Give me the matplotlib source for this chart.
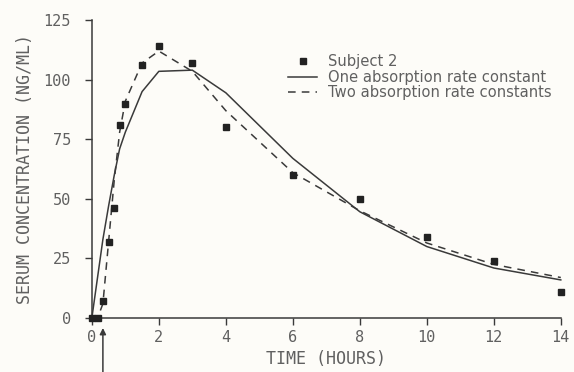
import numpy as np
import matplotlib.pyplot as plt

# time after dose (hours)
time = [0, 0.17, 0.33, 0.5, 0.67, 0.83, 1, 1.5, 2, 3, 4, 6, 8, 10, 12, 14]
# observed serum concentration, subject 2 (ng/ml)
subject2 = [0, 0, 7, 32, 46, 81, 90, 106, 114, 107, 80, 60, 50, 34, 24, 11]
# model fits
one_rate = [0, 17, 33, 47, 60, 71, 78, 95, 103.5, 104, 94.5, 67, 44.6, 30, 21, 16]
two_rate = [0, 0, 6, 32, 58, 78, 91, 107, 112, 103.5, 87, 61, 45, 31.5, 22.5, 17]

xticks = [0, 2, 4, 6, 8, 10, 12, 14]
yticks = [0, 25, 50, 75, 100, 125]

ink = "#3a3a3a"
txt = "#606060"
mono = "DejaVu Sans Mono"

fig = plt.figure(figsize=(5.74, 3.72), dpi=100, facecolor="#fdfcf8")
ax = fig.add_axes([0.160, 0.145, 0.817, 0.801])
ax.set_facecolor("none")

ax.plot(time, one_rate, "-", color=ink, lw=1.1, label="One absorption rate constant", clip_on=False)
ax.plot(time, two_rate, "--", color=ink, lw=1.1, dashes=(5, 4), label="Two absorption rate constants", clip_on=False)
ax.plot(time, subject2, "s", color="#222222", ms=4.5, label="Subject 2", clip_on=False, zorder=5)

ax.set_xlim(0, 14)
ax.set_ylim(0, 125)
ax.set_xticks(xticks)
ax.set_yticks(yticks)
ax.tick_params(direction="out", length=5, width=1, color=ink, labelcolor=txt, labelsize=11)
ax.tick_params(axis="y", pad=10)
for lab in ax.get_xticklabels() + ax.get_yticklabels():
    lab.set_family(mono)
ax.spines["top"].set_visible(False)
ax.spines["right"].set_visible(False)
for s in ["left", "bottom"]:
    ax.spines[s].set_color(ink)
    ax.spines[s].set_linewidth(1.1)

ax.set_xlabel("TIME (HOURS)", family=mono, fontsize=12, color=txt, labelpad=4)
ax.set_ylabel("SERUM CONCENTRATION (NG/ML)", family=mono, fontsize=12, color=txt, labelpad=7)

# dosing arrow under the axis
ax.annotate("", xy=(0.33, -3), xytext=(0.33, -25),
            arrowprops=dict(arrowstyle="-|>", color=ink, lw=1.1, mutation_scale=9),
            annotation_clip=False)

h, l = ax.get_legend_handles_labels()
order = [2, 0, 1]
ax.legend([h[i] for i in order], [l[i] for i in order],
          loc="upper left", bbox_to_anchor=(288 / 574, 1 - 54 / 372), bbox_transform=fig.transFigure,
          frameon=False, fontsize=10.6, handlelength=2.0, handletextpad=0.75,
          labelspacing=0.05, borderpad=0, borderaxespad=0, labelcolor=txt)

fig.savefig("out.png", dpi=100, facecolor=fig.get_facecolor())
